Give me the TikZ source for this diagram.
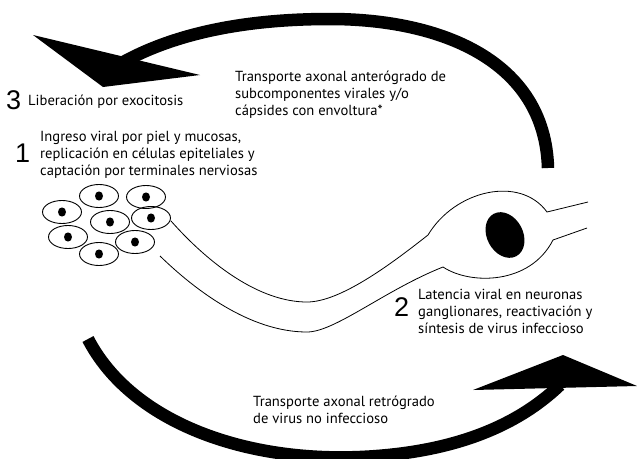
\documentclass[tikz,border=0pt]{standalone}
\usepackage{fontspec}
\setmainfont{PT Sans}
\newfontfamily\digitfont{Liberation Sans}
\begin{document}
\begin{tikzpicture}[x=1pt,y=-1pt,
  % multi-line labels are placed by the baseline of their last line
  txt/.style={inner sep=0pt, align=left, anchor=base west,
    font=\fontsize{14.6}{17}\selectfont},
  num/.style={inner sep=0pt, anchor=base west,
    font=\digitfont\fontsize{27}{27}\selectfont},
  cell/.style={line width=0.9pt},
  nerve/.style={line width=0.8pt},
  shaft/.style={line width=12.5pt}]
\useasboundingbox (0,0) rectangle (637,458);

% epithelial cells with nuclei
\foreach \cx/\cy [count=\i] in {99/196,146/197,62/212,110/222,151/218,68/237,135/242,99/254}{
  \draw[cell] (\cx,\cy) ellipse [x radius=19.5, y radius=11.5];
  \fill (\cx,\cy) ellipse [x radius=4, y radius=4.6];
}

% nerve fibre and ganglion neuron
\coordinate (a0) at (171,221);
\coordinate (a1) at (307,302);
\coordinate (s0) at (428,235);
\coordinate (s1) at (547,212);
\coordinate (d0) at (588,202);
\draw[nerve] (a0) .. controls (210,265) and (260,302) .. (a1)
  .. controls (340,302) and (390,265) .. (s0)
  .. controls (455,190) and (520,175) .. (s1) -- (d0);
\coordinate (b0) at (160,256);
\coordinate (b1) at (307,332);
\coordinate (r0) at (443,267);
\coordinate (r1) at (553,240);
\coordinate (e0) at (587,228);
\draw[nerve] (b0) .. controls (195,290) and (250,332) .. (b1)
  .. controls (335,332) and (385,290) .. (r0)
  .. controls (470,285) and (530,285) .. (r1) -- (e0);
\fill[rotate around={28:(505,235)}] (505,235) ellipse [x radius=18, y radius=24];

% anterograde arrow (top)
\coordinate (u0) at (548,168);
\coordinate (u1) at (330,19);
\coordinate (u2) at (118,65);
\draw[shaft] (u0) .. controls (545,60) and (440,19) .. (u1)
  .. controls (240,19) and (170,35) .. (u2);
\fill (33,35) coordinate (ht) -- (200,75) -- (103,87) -- cycle;

% retrograde arrow (bottom)
\coordinate (l0) at (88,339);
\coordinate (l1) at (360,457);
\coordinate (l2) at (560,385);
\draw[shaft] (l0) .. controls (130,420) and (240,462) .. (l1)
  .. controls (450,453) and (515,428) .. (l2);
\fill (473,390) -- (563,355) coordinate (hb) -- (637,386) -- cycle;

% labels
\node[num] (n3) at (6,109) {3};
\node[txt] (t3) at (28,105.5) {Liberación por exocitosis};
\node[num] (n1) at (15,162) {1};
\node[txt] (t1) at (40,175.5) {Ingreso viral por piel y mucosas,\\replicación en células epiteliales y\\captación por terminales nerviosas};
\node[txt] (tt) at (235,115) {Transporte axonal anterógrado de\\subcomponentes virales y/o\\cápsides con envoltura*};
\node[num] (n2) at (394,316) {2};
\node[txt] (t2) at (418,333) {Latencia viral en neuronas\\ganglionares, reactivación y\\síntesis de virus infeccioso};
\node[txt] (tb) at (253,423) {Transporte axonal retrógrado\\de virus no infeccioso};
\end{tikzpicture}
\end{document}
